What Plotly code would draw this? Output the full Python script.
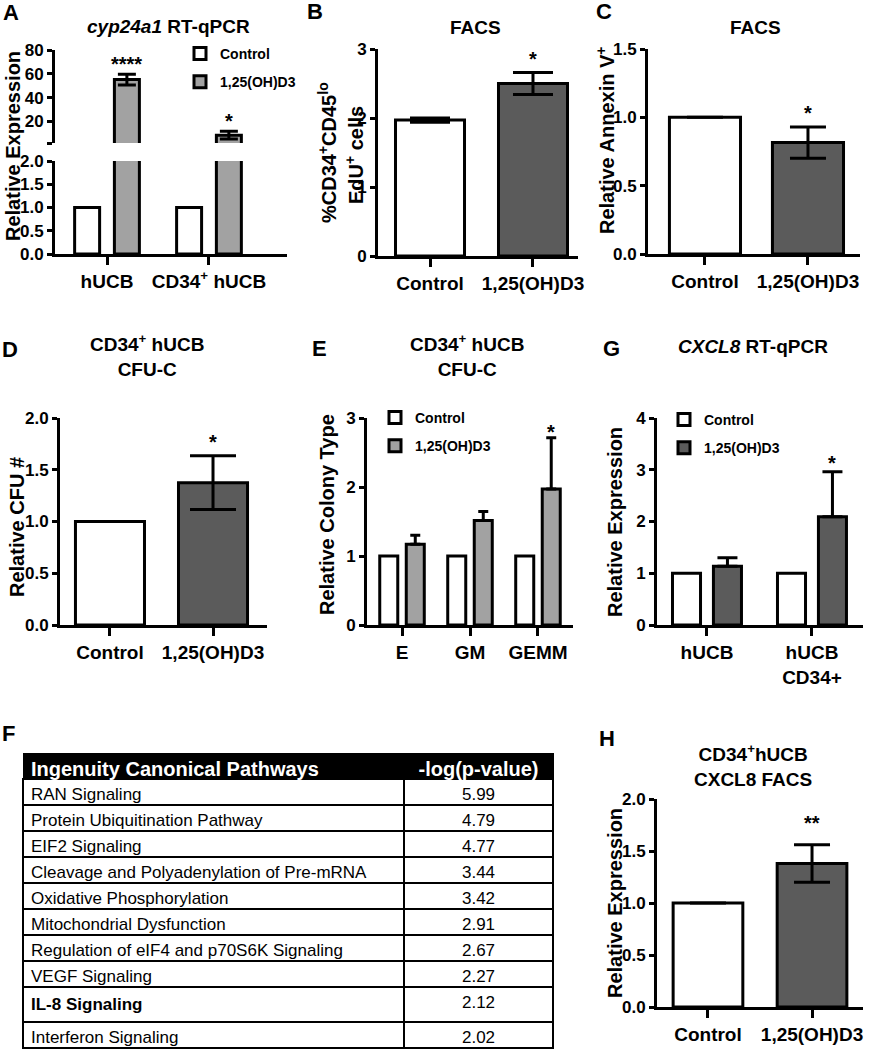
import plotly.graph_objects as go

# ---------------- DATA ----------------
GROUP_NAMES = ["Control", "1,25(OH)D3"]

# A: cyp24a1 RT-qPCR
A_cats = ["hUCB", "CD34<sup>+</sup> hUCB"]
A_ctrl = [1.0, 1.0]
A_d3 = [55.2, 8.6]
A_d3_err = [4.5, 3.3]

# B: FACS EdU
B_cats = ["Control", "1,25(OH)D3"]
B_vals = [1.97, 2.50]
B_err = [0.03, 0.16]

# C: FACS Annexin V
C_cats = ["Control", "1,25(OH)D3"]
C_vals = [1.0, 0.815]
C_err = [0.0, 0.115]

# D: CFU-C
D_cats = ["Control", "1,25(OH)D3"]
D_vals = [1.0, 1.375]
D_err = [0.0, 0.26]

# E: colony types
E_cats = ["E", "GM", "GEMM"]
E_ctrl = [1.0, 1.0, 1.0]
E_d3 = [1.17, 1.515, 1.97]
E_d3_err = [0.13, 0.13, 0.745]

# G: CXCL8 RT-qPCR
G_cats = ["hUCB", "hUCB<br>CD34+"]
G_ctrl = [1.0, 1.0]
G_d3 = [1.135, 2.09]
G_d3_err = [0.165, 0.87]

# H: CXCL8 FACS
H_cats = ["Control", "1,25(OH)D3"]
H_vals = [1.0, 1.38]
H_err = [0.0, 0.18]

# F: IPA table
F_pathways = ["RAN Signaling", "Protein Ubiquitination Pathway", "EIF2 Signaling",
              "Cleavage and Polyadenylation of Pre-mRNA", "Oxidative Phosphorylation",
              "Mitochondrial Dysfunction", "Regulation of eIF4 and p70S6K Signaling",
              "VEGF Signaling", "IL-8 Signaling", "Interferon Signaling"]
F_logp = [5.99, 4.79, 4.77, 3.44, 3.42, 2.91, 2.67, 2.27, 2.12, 2.02]
F_bold = "IL-8 Signaling"

# ---------------- STYLE ----------------
W, H = 870, 1050
FONT = "Liberation Sans, Arial, Helvetica, sans-serif"
DARK = "#5b5b5b"
LIGHT = "#a2a2a2"
LW = 3
BARGAP = 0.22
GOFF = (1 - BARGAP) / 4  # group offset of each of two bars
TICKFS = 17
XLABFS = 19
YTITFS = 20
TITFS = 19


def xd(a, b):
    return [a / W, b / W]


def yd(top, bot):
    return [1 - bot / H, 1 - top / H]


fig = go.Figure()


def bar(x, y, color, xa, ya, err=None, ew=10, upper_only=False, width=None,
        name=None, legend=None, showlegend=False, opacity=1):
    kw = {}
    if err is not None:
        e = dict(type="data", array=err, visible=True, color="black",
                 thickness=LW, width=ew)
        if upper_only:
            e["symmetric"] = False
            e["arrayminus"] = [0] * len(err)
        kw["error_y"] = e
    if legend is not None:
        kw["legend"] = legend
    fig.add_trace(go.Bar(x=x, y=y, marker=dict(color=color, line=dict(color="black", width=LW)),
                         xaxis=xa, yaxis=ya, width=width, name=name, showlegend=showlegend,
                         opacity=opacity,
                         legendgroup=(name or "") + (legend or ""), hoverinfo="skip", **kw))


# A lower + upper (broken axis); control bars sit wholly below the upper segment
for xa, ya, show in (("x", "y", True), ("x2", "y2", False)):
    bar(A_cats, A_ctrl, "white", xa, ya, width=0.245, name=GROUP_NAMES[0],
        legend="legend", showlegend=show, opacity=1 if show else 0)
    bar(A_cats, A_d3, LIGHT, xa, ya, err=A_d3_err, ew=9, width=0.245, name=GROUP_NAMES[1],
        legend="legend", showlegend=show)

# B, C, D, H single-series
bar(B_cats, B_vals, ["white", DARK], "x3", "y3", err=B_err, ew=20, width=0.67)
bar(C_cats, C_vals, ["white", DARK], "x4", "y4", err=C_err, ew=18, width=0.69)
bar(D_cats, D_vals, ["white", DARK], "x5", "y5", err=D_err, ew=23, width=0.67)
bar(H_cats, H_vals, ["white", DARK], "x8", "y8", err=H_err, ew=18, width=0.67)

# E grouped
bar(E_cats, E_ctrl, "white", "x6", "y6", width=0.265, name=GROUP_NAMES[0], legend="legend2", showlegend=True)
bar(E_cats, E_d3, LIGHT, "x6", "y6", err=E_d3_err, ew=5, upper_only=True, width=0.265,
    name=GROUP_NAMES[1], legend="legend2", showlegend=True)

# G grouped
bar(G_cats, G_ctrl, "white", "x7", "y7", width=0.267, name=GROUP_NAMES[0], legend="legend3", showlegend=True)
bar(G_cats, G_d3, DARK, "x7", "y7", err=G_d3_err, ew=10, upper_only=True, width=0.267,
    name=GROUP_NAMES[1], legend="legend3", showlegend=True)

# F table
fig.add_trace(go.Table(
    domain=dict(x=xd(23, 553), y=yd(753, 1049)),
    columnwidth=[381, 149],
    header=dict(values=["Ingenuity Canonical Pathways", "-log(p-value)"],
                fill_color="black", line=dict(color="black", width=1),
                font=dict(family=FONT, size=20, color="white", weight="bold"),
                align=["left", "center"], height=26),
    cells=dict(values=[[("<b>%s</b>" % p) if p == F_bold else p for p in F_pathways], F_logp],
               format=[None, ".2f"],
               fill_color="white", line=dict(color="black", width=1.3),
               font=dict(family=FONT, size=17, color="black"),
               align=["left", "center"], height=26),
))


def yaxis(domain, rng, tickvals, anchor, fs=TICKFS, ticktext=None, fmt=None):
    d = dict(domain=domain, range=rng, anchor=anchor, showline=True, linecolor="black",
             linewidth=LW, ticks="outside", ticklen=5, tickwidth=LW, tickcolor="black",
             tickvals=tickvals, showgrid=False, zeroline=False, fixedrange=True,
             automargin=False,
             tickfont=dict(family=FONT, size=fs, color="black", weight="bold"))
    if ticktext is not None:
        d["ticktext"] = ticktext
    if fmt:
        d["tickformat"] = fmt
    return d


def xaxis(domain, rng, anchor, fs=XLABFS):
    return dict(domain=domain, range=rng, anchor=anchor, type="category", showline=True,
                linecolor="black", linewidth=LW, ticks="outside", ticklen=8, tickwidth=LW,
                tickcolor="black", showgrid=False, zeroline=False, fixedrange=True,
                automargin=False,
                tickfont=dict(family=FONT, size=fs, color="black", weight="bold"))


layout = dict(
    width=W, height=H, autosize=False,
    margin=dict(l=0, r=0, t=0, b=0, pad=0, autoexpand=False),
    paper_bgcolor="white", plot_bgcolor="rgba(0,0,0,0)",
    barmode="group", bargap=BARGAP, bargroupgap=0,
    font=dict(family=FONT, color="black"),
    # A
    xaxis=xaxis(xd(55, 287), [-0.51, 1.765], "y"),
    yaxis=yaxis(yd(161, 254), [0, 2], [0, 0.5, 1, 1.5, 2], "x", fmt=".1f"),
    xaxis2=dict(domain=xd(55, 287), range=[-0.51, 1.765], anchor="y2", type="category",
                matches="x", visible=False, fixedrange=True),
    yaxis2=yaxis(yd(50, 143), [2, 80], [2, 20, 40, 60, 80], "x2",
                 ticktext=["", "20", "40", "60", "80"]),
    # B
    xaxis3=xaxis(xd(378, 578), [-0.505, 1.437], "y3"),
    yaxis3=yaxis(yd(49, 256), [0, 3], [0, 1, 2, 3], "x3"),
    # C
    xaxis4=xaxis(xd(648, 860), [-0.553, 1.505], "y4"),
    yaxis4=yaxis(yd(49, 254), [0, 1.5], [0, 0.5, 1, 1.5], "x4", fmt=".1f"),
    # D
    xaxis5=xaxis(xd(60, 267), [-0.485, 1.524], "y5"),
    yaxis5=yaxis(yd(418, 625), [0, 2], [0, 0.5, 1, 1.5, 2], "x5", fmt=".1f"),
    # E
    xaxis6=xaxis(xd(367, 573), [-0.515, 2.515], "y6"),
    yaxis6=yaxis(yd(418, 625), [0, 3], [0, 1, 2, 3], "x6"),
    # G
    xaxis7=xaxis(xd(657, 863), [-0.476, 1.486], "y7"),
    yaxis7=yaxis(yd(418, 625), [0, 4], [0, 1, 2, 3, 4], "x7"),
    # H
    xaxis8=xaxis(xd(657, 863), [-0.49, 1.49], "y8"),
    yaxis8=yaxis(yd(799, 1007), [0, 2], [0, 0.5, 1, 1.5, 2], "x8", fmt=".1f"),
)

LEG = dict(xanchor="left", yanchor="top", bgcolor="rgba(0,0,0,0)", borderwidth=0,
           font=dict(family=FONT, size=14, color="black", weight="bold"),
           tracegroupgap=7, itemwidth=30, traceorder="grouped")
layout["legend"] = dict(LEG, x=180 / W, y=1 - 38 / H)
layout["legend2"] = dict(LEG, x=375 / W, y=1 - 402 / H)
layout["legend3"] = dict(LEG, x=664 / W, y=1 - 404 / H)

ann = []


def text(t, x, y, size, angle=0, bold=True):
    ann.append(dict(text=("<b>%s</b>" % t) if bold else t, x=x / W, y=1 - y / H,
                    xref="paper", yref="paper", xanchor="center", yanchor="middle",
                    showarrow=False, textangle=angle,
                    font=dict(family=FONT, size=size, color="black")))


# panel letters
for L, x, y in (("A", 11, 12), ("B", 315, 11), ("C", 604, 11), ("D", 10, 349),
                ("E", 319, 348), ("G", 611, 348), ("F", 8, 733), ("H", 607, 738)):
    text(L, x, y, 22)

# titles
text("<i>cyp24a1</i> RT-qPCR", 168, 26, TITFS)
text("FACS", 475, 28, TITFS)
text("FACS", 755, 28, TITFS)
text("CD34<sup>+</sup> hUCB<br>CFU-C", 147, 355, TITFS)
text("CD34<sup>+</sup> hUCB<br>CFU-C", 467, 355, TITFS)
text("<i>CXCL8</i> RT-qPCR", 753, 346, TITFS)
text("CD34<sup>+</sup>hUCB<br>CXCL8 FACS", 753, 765, TITFS)

# y-axis titles
text("Relative Expression", 13, 146, YTITFS, angle=-90)
text("%CD34<sup>+</sup>CD45<sup>lo</sup>", 328, 153, YTITFS, angle=-90)
text("EdU<sup>+</sup> cells", 354, 155, YTITFS, angle=-90)
text("Relative Annexin V<sup>+</sup>", 606, 140, YTITFS, angle=-90)
text("Relative CFU #", 17, 527, YTITFS, angle=-90)
text("Relative Colony Type", 327, 515, YTITFS, angle=-90)
text("Relative Expression", 615, 522, YTITFS, angle=-90)
text("Relative Expression", 615, 903, YTITFS, angle=-90)


def star(t, xref, yref, x, y, shift):
    ann.append(dict(text="<b>%s</b>" % t, x=x, y=y, xref=xref, yref=yref,
                    xanchor="center", yanchor="middle", yshift=shift, showarrow=False,
                    font=dict(family=FONT, size=20, color="black")))


star("****", "x2", "y2", 0 + GOFF, A_d3[0] + A_d3_err[0], 10)
star("*", "x2", "y2", 1 + GOFF, A_d3[1] + A_d3_err[1], 10)
star("*", "x3", "y3", 1, B_vals[1] + B_err[1], 13)
star("*", "x4", "y4", 1, C_vals[1] + C_err[1], 14)
star("*", "x5", "y5", 1, D_vals[1] + D_err[1], 14)
star("*", "x6", "y6", 2 + GOFF, E_d3[2] + E_d3_err[2], 6)
star("*", "x7", "y7", 1 + GOFF, G_d3[1] + G_d3_err[1], 9)
star("**", "x8", "y8", 1, H_vals[1] + H_err[1], 22)

# E overall significance line
SIG_Y = 3.23
fig.add_shape(type="line", xref="x6", yref="y6", x0=-0.43, x1=2.18, y0=SIG_Y, y1=SIG_Y,
              line=dict(color="black", width=1.3))
star("*", "x6", "y6", (-0.43 + 2.18) / 2, SIG_Y, 5)

layout["annotations"] = ann
fig.update_layout(**layout)
fig.write_html("out.html", config={"displayModeBar": False, "staticPlot": True},
               post_script="document.body.style.margin='0px';")
